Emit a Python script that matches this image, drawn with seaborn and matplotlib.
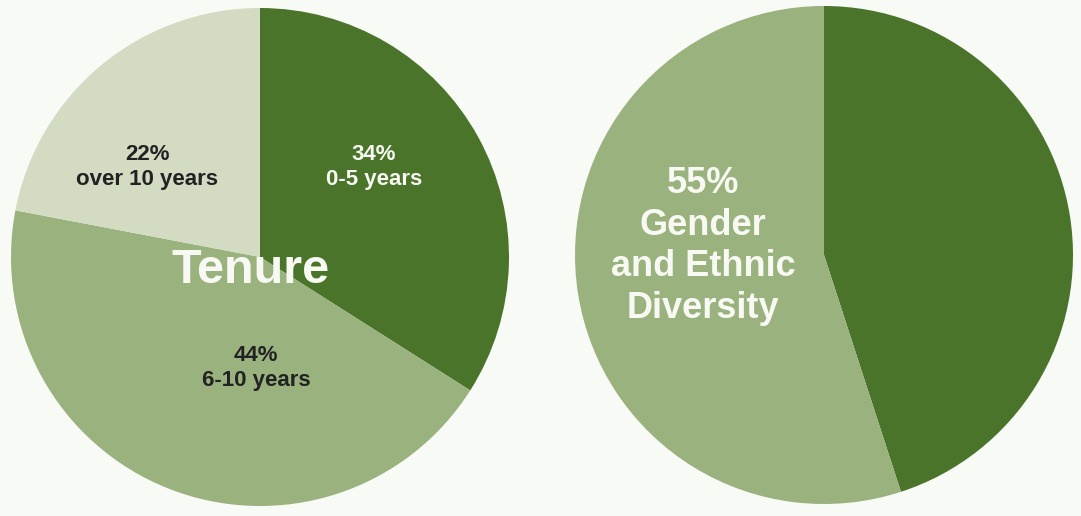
import matplotlib
matplotlib.use("Agg")
import matplotlib.pyplot as plt
import seaborn as sns

# Data
tenure_labels = ["0-5 years", "6-10 years", "over 10 years"]
tenure_values = [34, 44, 22]
diversity_labels = ["Other", "Gender and Ethnic Diversity"]
diversity_values = [45, 55]

sns.set_theme(style="white")
plt.rcParams['font.family'] = ['Liberation Sans', 'DejaVu Sans']

dark = "#4a7429"
mid = "#9ab27e"
light = "#d3dcc3"
bg = "#f8faf6"
white_txt = "#f7f9f2"
dark_txt = "#222222"

fig = plt.figure(figsize=(10.81, 5.16), dpi=100, facecolor=bg)
W, H = 1081, 516

def make_ax(cx, cy, r):
    ax = fig.add_axes([(cx - r) / W, (H - cy - r) / H, 2 * r / W, 2 * r / H])
    ax.set_facecolor(bg)
    ax.axis("off")
    return ax

def to_data(cx, cy, r, px, py):
    return (px - cx) / r, (cy - py) / r

# Left pie: Tenure
lcx, lcy, lr = 260, 257, 249
ax1 = make_ax(lcx, lcy, lr)
ax1.pie(tenure_values, colors=[dark, mid, light], startangle=90, counterclock=False,
        radius=1, wedgeprops=dict(linewidth=0))
ax1.set_xlim(-1, 1); ax1.set_ylim(-1, 1); ax1.set_aspect("equal")

fs = 16
ls = 1.3
x, y = to_data(lcx, lcy, lr, 374, 167)
ax1.text(x, y, f"{tenure_values[0]}%\n{tenure_labels[0]}", ha="center", va="center",
         color=white_txt, fontsize=fs, fontweight="bold", linespacing=ls)
x, y = to_data(lcx, lcy, lr, 256, 368)
ax1.text(x, y, f"{tenure_values[1]}%\n{tenure_labels[1]}", ha="center", va="center",
         color=dark_txt, fontsize=fs, fontweight="bold", linespacing=ls)
x, y = to_data(lcx, lcy, lr, 147, 167)
ax1.text(x, y, f"{tenure_values[2]}%\n{tenure_labels[2]}", ha="center", va="center",
         color=dark_txt, fontsize=fs, fontweight="bold", linespacing=ls)
x, y = to_data(lcx, lcy, lr, 251, 283)
ax1.text(x, y, "Tenure", ha="center", va="baseline", color=white_txt,
         fontsize=35, fontweight="bold")

# Right pie: Diversity
rcx, rcy, rr = 824, 255, 249
ax2 = make_ax(rcx, rcy, rr)
ax2.pie(diversity_values, colors=[dark, mid], startangle=90, counterclock=False,
        radius=1, wedgeprops=dict(linewidth=0))
ax2.set_xlim(-1, 1); ax2.set_ylim(-1, 1); ax2.set_aspect("equal")
x, y = to_data(rcx, rcy, rr, 703, 246)
ax2.text(x, y, f"{diversity_values[1]}%\nGender\nand Ethnic\nDiversity", ha="center", va="center",
         color=white_txt, fontsize=26, fontweight="bold", linespacing=1.24)

fig.savefig("out.png", dpi=100, facecolor=bg)
